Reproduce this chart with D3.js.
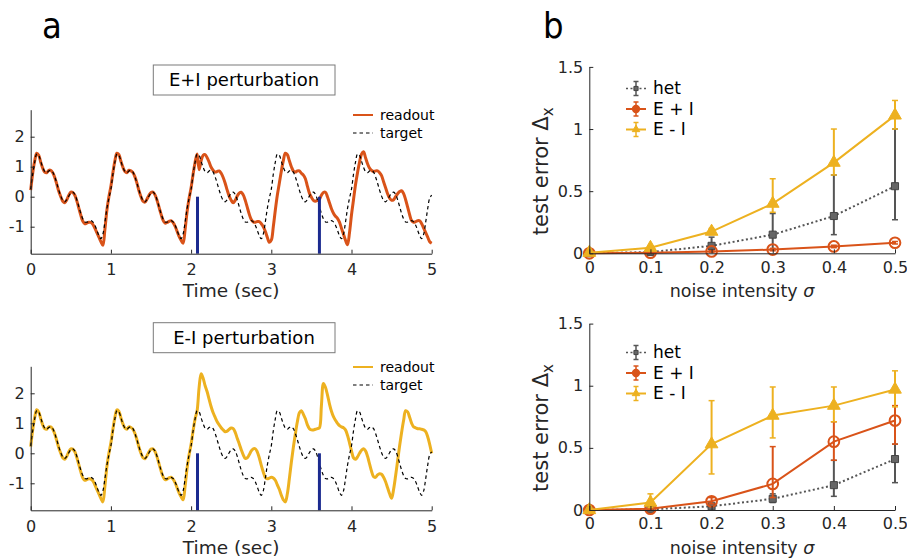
<!DOCTYPE html>
<html>
<head>
<meta charset="utf-8">
<script src="https://cdn.jsdelivr.net/npm/d3@7"></script>
<style>
  body { margin: 0; background: #fff; }
  text { font-family: "DejaVu Sans", sans-serif; fill: #262626; }
</style>
</head>
<body>
<svg id="fig" width="907" height="560"></svg>
<script>
// ---------- time traces (panel a) ----------
const sampleStep = 0.025;               // seconds between samples
const traceTimeTicks = [0, 1, 2, 3, 4, 5];
const traceValueTicks = [-1, 0, 1, 2];
const perturbationTimes = [2.08, 3.6];

const target = [
  0.25, 0.75, 1.15, 1.42, 1.38, 1.18, 0.98, 0.84, 0.80, 0.86,
  0.88, 0.82, 0.66, 0.45, 0.22, 0.02, -0.12, -0.17, -0.10, 0.02,
  0.12, 0.15, 0.08, -0.10, -0.33, -0.56, -0.74, -0.84, -0.85, -0.82,
  -0.80, -0.84, -0.95, -1.12, -1.30, -1.40, -1.25, -0.85, -0.40, -0.05,
  0.25, 0.75, 1.15, 1.42, 1.38, 1.18, 0.98, 0.84, 0.80, 0.86,
  0.88, 0.82, 0.66, 0.45, 0.22, 0.02, -0.12, -0.17, -0.10, 0.02,
  0.12, 0.15, 0.08, -0.10, -0.33, -0.56, -0.74, -0.84, -0.85, -0.82,
  -0.80, -0.84, -0.95, -1.12, -1.30, -1.40, -1.25, -0.85, -0.40, -0.05,
  0.25, 0.75, 1.15, 1.42, 1.38, 1.18, 0.98, 0.84, 0.80, 0.86,
  0.88, 0.82, 0.66, 0.45, 0.22, 0.02, -0.12, -0.17, -0.10, 0.02,
  0.12, 0.15, 0.08, -0.10, -0.33, -0.56, -0.74, -0.84, -0.85, -0.82,
  -0.80, -0.84, -0.95, -1.12, -1.30, -1.40, -1.25, -0.85, -0.40, -0.05,
  0.25, 0.75, 1.15, 1.42, 1.38, 1.18, 0.98, 0.84, 0.80, 0.86,
  0.88, 0.82, 0.66, 0.45, 0.22, 0.02, -0.12, -0.17, -0.10, 0.02,
  0.12, 0.15, 0.08, -0.10, -0.33, -0.56, -0.74, -0.84, -0.85, -0.82,
  -0.80, -0.84, -0.95, -1.12, -1.30, -1.40, -1.25, -0.85, -0.40, -0.05,
  0.25, 0.75, 1.15, 1.42, 1.38, 1.18, 0.98, 0.84, 0.80, 0.86,
  0.88, 0.82, 0.66, 0.45, 0.22, 0.02, -0.12, -0.17, -0.10, 0.02,
  0.12, 0.15, 0.08, -0.10, -0.33, -0.56, -0.74, -0.84, -0.85, -0.82,
  -0.80, -0.84, -0.95, -1.12, -1.30, -1.40, -1.25, -0.85, -0.40, -0.05,
  0.05
];

const readoutEplusI = [
  0.22, 0.78, 1.20, 1.45, 1.38, 1.15, 0.95, 0.82, 0.80, 0.88,
  0.88, 0.80, 0.64, 0.42, 0.18, 0.00, -0.15, -0.20, -0.10, 0.05,
  0.15, 0.14, 0.05, -0.14, -0.38, -0.62, -0.82, -0.90, -0.88, -0.85,
  -0.86, -0.92, -1.05, -1.20, -1.35, -1.50, -1.62, -1.10, -0.45, 0.00,
  0.35, 0.80, 1.20, 1.45, 1.40, 1.18, 0.98, 0.84, 0.80, 0.88,
  0.86, 0.80, 0.66, 0.45, 0.20, 0.00, -0.15, -0.18, -0.08, 0.05,
  0.14, 0.15, 0.06, -0.12, -0.35, -0.58, -0.78, -0.88, -0.86, -0.82,
  -0.80, -0.86, -0.98, -1.15, -1.32, -1.45, -1.55, -1.10, -0.50, -0.05,
  0.30, 0.75, 1.15, 1.42, 0.90, 1.20, 1.38, 1.40, 1.30, 1.15,
  0.98, 0.88, 0.82, 0.84, 0.86, 0.78, 0.64, 0.45, 0.22, 0.02,
  -0.12, -0.20, -0.12, 0.02, 0.12, 0.15, 0.06, -0.12, -0.35, -0.58,
  -0.76, -0.84, -0.85, -0.83, -0.83, -0.90, -1.00, -1.15, -1.35, -1.52,
  -1.45, -1.00, -0.45, 0.05, 0.45, 0.85, 1.20, 1.45, 1.40, 1.20,
  1.00, 0.86, 0.82, 0.86, 0.86, 0.78, 0.72, 0.60, 0.35, 0.12,
  -0.02, -0.12, -0.15, -0.12, -0.08, 0.05, 0.14, 0.15, 0.00, -0.20,
  -0.40, -0.55, -0.65, -0.72, -0.85, -1.05, -1.25, -1.45, -1.60, -1.20,
  -0.60, -0.10, 0.40, 0.80, 1.15, 1.42, 1.50, 1.30, 1.10, 0.95,
  0.88, 0.84, 0.86, 0.86, 0.80, 0.70, 0.50, 0.30, 0.10, -0.05,
  -0.12, -0.10, 0.00, 0.10, 0.17, 0.20, 0.10, -0.10, -0.35, -0.60,
  -0.80, -0.85, -0.83, -0.80, -0.80, -0.90, -1.05, -1.20, -1.35, -1.50,
  -1.55
];

const readoutEminusI = [
  0.22, 0.78, 1.20, 1.45, 1.38, 1.15, 0.95, 0.82, 0.80, 0.88,
  0.88, 0.80, 0.64, 0.42, 0.18, 0.00, -0.15, -0.20, -0.10, 0.05,
  0.15, 0.14, 0.05, -0.14, -0.38, -0.62, -0.82, -0.90, -0.88, -0.85,
  -0.86, -0.92, -1.05, -1.20, -1.35, -1.50, -1.62, -1.10, -0.45, 0.00,
  0.35, 0.80, 1.20, 1.45, 1.40, 1.18, 0.98, 0.84, 0.80, 0.88,
  0.86, 0.80, 0.66, 0.45, 0.20, 0.00, -0.15, -0.18, -0.08, 0.05,
  0.14, 0.15, 0.06, -0.12, -0.35, -0.58, -0.78, -0.88, -0.86, -0.82,
  -0.80, -0.86, -0.98, -1.15, -1.32, -1.45, -1.55, -1.10, -0.50, -0.05,
  0.30, 0.75, 1.15, 1.42, 2.20, 2.65, 2.50, 2.25, 2.05, 1.80,
  1.55, 1.35, 1.20, 1.05, 0.95, 0.85, 0.78, 0.72, 0.74, 0.80,
  0.84, 0.82, 0.70, 0.50, 0.32, 0.12, -0.05, -0.17, -0.15, -0.05,
  0.08, 0.15, 0.15, 0.05, -0.15, -0.40, -0.62, -0.80, -0.85, -0.83,
  -0.80, -0.82, -0.90, -1.05, -1.20, -1.40, -1.55, -1.62, -1.35, -0.85,
  -0.30, 0.20, 0.65, 1.05, 1.35, 1.42, 1.30, 1.15, 0.95, 0.82,
  0.78, 0.78, 0.80, 0.82, 0.85, 1.60, 2.33, 2.20, 1.95, 1.65,
  1.40, 1.22, 1.10, 1.00, 0.92, 0.88, 0.85, 0.78, 0.60, 0.35,
  0.08, -0.15, -0.20, -0.12, 0.00, 0.10, 0.15, 0.08, -0.10, -0.35,
  -0.60, -0.78, -0.80, -0.72, -0.68, -0.70, -0.80, -0.95, -1.15, -1.35,
  -1.50, -1.20, -0.75, -0.25, 0.25, 0.70, 1.10, 1.42, 1.38, 1.20,
  1.00, 0.88, 0.85, 0.82, 0.82, 0.80, 0.78, 0.72, 0.55, 0.30,
  0.00
];

// ---------- test error vs noise (panel b) ----------
const noiseLevels = [0, 0.1, 0.2, 0.3, 0.4, 0.5];
const noiseTickLabels = ["0", "0.1", "0.2", "0.3", "0.4", "0.5"];
const errorTicks = [0, 0.5, 1, 1.5];
const errorTickLabels = ["0", "0.5", "1", "1.5"];
const seriesNames = ["het", "E + I", "E - I"];

// upper plot
const hetUpper      = [0, 0.010, 0.06, 0.15, 0.30, 0.54];
const hetUpperLow   = [0, 0.005, 0.03, 0.03, 0.15, 0.27];
const hetUpperHigh  = [0, 0.020, 0.13, 0.32, 0.63, 1.00];
const epiUpper      = [0, 0.005, 0.015, 0.030, 0.055, 0.085];
const epiUpperLow   = [0, 0.000, 0.008, 0.020, 0.045, 0.075];
const epiUpperHigh  = [0, 0.010, 0.022, 0.040, 0.065, 0.095];
const emiUpper      = [0.005, 0.045, 0.175, 0.40, 0.73, 1.11];
const emiUpperLow   = [0.000, 0.030, 0.150, 0.33, 0.63, 1.00];
const emiUpperHigh  = [0.010, 0.060, 0.200, 0.60, 1.00, 1.23];

// lower plot
const hetLower      = [0, 0.005, 0.03, 0.09, 0.20, 0.41];
const hetLowerLow   = [0, 0.000, 0.02, 0.06, 0.11, 0.22];
const hetLowerHigh  = [0, 0.010, 0.05, 0.13, 0.40, 0.53];
const epiLower      = [0, 0.010, 0.07, 0.21, 0.55, 0.72];
const epiLowerLow   = [0, 0.005, 0.05, 0.10, 0.40, 0.53];
const epiLowerHigh  = [0, 0.020, 0.10, 0.51, 0.71, 0.84];
const emiLower      = [0, 0.06, 0.53, 0.76, 0.84, 0.97];
const emiLowerLow   = [0, 0.02, 0.29, 0.58, 0.71, 0.83];
const emiLowerHigh  = [0, 0.13, 0.88, 0.99, 0.99, 1.12];

// ---------- styling ----------
const ORANGE = "#D95319", YELLOW = "#EDB120", GRAY = "#555555";
const BLUE = "#1b2a8f", AXIS = "#262626";

const svg = d3.select("#fig");

// panel letters
svg.append("text").attr("x", 42).attr("y", 38)
  .style("font-family", "'DejaVu Sans Condensed','DejaVu Sans',sans-serif")
  .style("font-size", "36px").style("fill", "#000").text("a");
svg.append("text").attr("x", 543).attr("y", 38)
  .style("font-family", "'DejaVu Sans Condensed','DejaVu Sans',sans-serif")
  .style("font-size", "36px").style("fill", "#000").text("b");

function styleAxis(g) {
  g.select(".domain").attr("stroke", AXIS).attr("stroke-width", 1);
  g.selectAll(".tick line").attr("stroke", AXIS);
  g.selectAll(".tick text").style("font-size", "16px").style("fill", AXIS)
    .attr("font-family", null);
}

function tracePanel(cfg) {
  const x = d3.scaleLinear().domain([0, 5]).range([30.7, 431.7]);
  const y = d3.scaleLinear().domain([-1.9, 2.9]).range([cfg.y0 + 57, cfg.y0 - 87]);
  const times = cfg.readout.map((_, i) => i * sampleStep);
  const g = svg.append("g");

  // title box
  const box = g.append("g");
  box.append("rect").attr("x", 153.3).attr("y", cfg.boxTop).attr("width", 181.7).attr("height", 30)
    .attr("fill", "#fff").attr("stroke", "#7a7a7a").attr("stroke-width", 1);
  box.append("text").attr("x", 244).attr("y", cfg.boxTop + 15).attr("dy", "0.35em")
    .attr("text-anchor", "middle").style("font-size", "18px").style("fill", "#000").text(cfg.title);

  const line = d3.line().x((d, i) => x(times[i])).y(d => y(d)).curve(d3.curveCatmullRom.alpha(0.5));

  g.append("path").datum(cfg.readout).attr("d", line).attr("fill", "none")
    .attr("stroke", cfg.color).attr("stroke-width", 3).attr("stroke-linejoin", "round");
  g.append("path").datum(target).attr("d", line).attr("fill", "none")
    .attr("stroke", "#000").attr("stroke-width", 1.2).attr("stroke-dasharray", "3.5,3");

  // perturbation markers
  g.selectAll(".pert").data(perturbationTimes).join("line")
    .attr("x1", d => x(d)).attr("x2", d => x(d))
    .attr("y1", y(0)).attr("y2", y(-1.9))
    .attr("stroke", BLUE).attr("stroke-width", 3);

  const xa = g.append("g").attr("transform", `translate(0,${y(-1.9)})`)
    .call(d3.axisBottom(x).tickValues(traceTimeTicks).tickFormat(d3.format("d"))
      .tickSizeInner(-4).tickSizeOuter(0).tickPadding(10));
  styleAxis(xa);
  const ya = g.append("g").attr("transform", `translate(${x(0)},0)`)
    .call(d3.axisLeft(y).tickValues(traceValueTicks).tickFormat(d3.format("d"))
      .tickSizeInner(-4).tickSizeOuter(0).tickPadding(6));
  styleAxis(ya);
  ya.selectAll(".tick text").text(d => d < 0 ? "-" + Math.abs(d) : d);

  g.append("text").attr("x", (x(0) + x(5)) / 2).attr("y", cfg.xlabelY)
    .attr("text-anchor", "middle").style("font-size", "18.5px").text("Time (sec)");

  // legend
  const lg = g.append("g");
  lg.append("line").attr("x1", 353).attr("x2", 373).attr("y1", cfg.legY).attr("y2", cfg.legY)
    .attr("stroke", cfg.color).attr("stroke-width", 2);
  lg.append("text").attr("x", 380).attr("y", cfg.legY).attr("dy", "0.35em")
    .style("font-size", "14px").style("fill", "#000").text("readout");
  lg.append("line").attr("x1", 353).attr("x2", 373).attr("y1", cfg.legY + 18).attr("y2", cfg.legY + 18)
    .attr("stroke", "#000").attr("stroke-width", 1.2).attr("stroke-dasharray", "3.5,3");
  lg.append("text").attr("x", 380).attr("y", cfg.legY + 18).attr("dy", "0.35em")
    .style("font-size", "14px").style("fill", "#000").text("target");
}

tracePanel({ y0: 196.7, boxTop: 65, title: "E+I perturbation", readout: readoutEplusI,
  color: ORANGE, xlabelY: 297, legY: 115 });
tracePanel({ y0: 453.3, boxTop: 322.7, title: "E-I perturbation", readout: readoutEminusI,
  color: YELLOW, xlabelY: 554, legY: 367 });

function marker(sel, kind, color, scale) {
  if (kind === "square") {
    sel.attr("d", d3.symbol(d3.symbolSquare, 50 * scale)).attr("fill", "#666").attr("stroke", "#444").attr("stroke-width", 1);
  } else if (kind === "circle") {
    sel.attr("d", d3.symbol(d3.symbolCircle, 90 * scale)).attr("fill", scale < 1 ? color : "none")
      .attr("stroke", color).attr("stroke-width", 2);
  } else {
    sel.attr("d", d3.symbol(d3.symbolTriangle, 70 * scale)).attr("fill", color).attr("stroke", color).attr("stroke-width", 1);
  }
}

function noisePanel(cfg) {
  const x = d3.scaleLinear().domain([0, 0.5]).range([589.3, 895]);
  const y = d3.scaleLinear().domain([0, 1.5]).range([cfg.yBottom, cfg.yBottom - 186.4]);
  const g = svg.append("g");

  const series = [
    { mean: cfg.het, lo: cfg.hetLo, hi: cfg.hetHi, color: GRAY, kind: "square", dash: "2,2.5" },
    { mean: cfg.epi, lo: cfg.epiLo, hi: cfg.epiHi, color: ORANGE, kind: "circle", dash: null },
    { mean: cfg.emi, lo: cfg.emiLo, hi: cfg.emiHi, color: YELLOW, kind: "triangle", dash: null }
  ];

  const line = d3.line().x((d, i) => x(noiseLevels[i])).y(d => y(d));

  series.forEach(s => {
    const sg = g.append("g");
    const bars = sg.selectAll(".eb").data(noiseLevels).join("g");
    bars.append("line").attr("x1", (d) => x(d)).attr("x2", d => x(d))
      .attr("y1", (d, i) => y(s.lo[i])).attr("y2", (d, i) => y(s.hi[i]))
      .attr("stroke", s.color).attr("stroke-width", 2);
    ["lo", "hi"].forEach(k => {
      bars.append("line").attr("x1", d => x(d) - 3).attr("x2", d => x(d) + 3)
        .attr("y1", (d, i) => y(s[k][i])).attr("y2", (d, i) => y(s[k][i]))
        .attr("stroke", s.color).attr("stroke-width", 1.5);
    });
    sg.append("path").datum(s.mean).attr("d", line).attr("fill", "none")
      .attr("stroke", s.color).attr("stroke-width", 2)
      .attr("stroke-dasharray", s.dash);
    sg.selectAll(".mk").data(s.mean).join("path")
      .attr("transform", (d, i) => `translate(${x(noiseLevels[i])},${y(d)})`)
      .call(marker, s.kind, s.color, 1);
  });

  const xa = g.append("g").attr("transform", `translate(0,${y(0)})`)
    .call(d3.axisBottom(x).tickValues(noiseLevels).tickFormat((d, i) => noiseTickLabels[i])
      .tickSizeInner(-4).tickSizeOuter(0).tickPadding(8));
  styleAxis(xa);
  const ya = g.append("g").attr("transform", `translate(${x(0)},0)`)
    .call(d3.axisLeft(y).tickValues(errorTicks).tickFormat((d, i) => errorTickLabels[i])
      .tickSizeInner(-4).tickSizeOuter(0).tickPadding(6));
  styleAxis(ya);

  const xl = g.append("text").attr("x", 742).attr("y", cfg.yBottom + 44)
    .attr("text-anchor", "middle").style("font-size", "17.5px");
  xl.append("tspan").text("noise intensity ");
  xl.append("tspan").style("font-style", "italic").text("σ");

  const yl = g.append("text")
    .attr("transform", `translate(548,${cfg.yBottom - 82}) rotate(-90)`)
    .attr("text-anchor", "middle").style("font-size", "21px");
  yl.append("tspan").text("test error Δ");
  yl.append("tspan").attr("dy", "0.3em").style("font-size", "15px").text("x");

  // legend
  const lg = g.selectAll(".leg").data(series).join("g")
    .attr("transform", (d, i) => `translate(636,${cfg.legTop + i * 20.5})`);
  lg.append("line").attr("x1", -10).attr("x2", 10).attr("stroke", d => d.color)
    .attr("stroke-width", d => d.dash ? 1.5 : 2).attr("stroke-dasharray", d => d.dash);
  lg.append("line").attr("y1", -7).attr("y2", 7).attr("stroke", d => d.color).attr("stroke-width", 1.5);
  lg.append("line").attr("x1", -2.5).attr("x2", 2.5).attr("y1", -7).attr("y2", -7).attr("stroke", d => d.color).attr("stroke-width", 1.5);
  lg.append("line").attr("x1", -2.5).attr("x2", 2.5).attr("y1", 7).attr("y2", 7).attr("stroke", d => d.color).attr("stroke-width", 1.5);
  lg.append("path").each(function (d) { d3.select(this).call(marker, d.kind, d.color, 0.35); });
  lg.append("text").attr("x", 17).attr("dy", "0.35em").style("font-size", "17px").style("fill", "#000")
    .text((d, i) => seriesNames[i]);
}

noisePanel({ yBottom: 253.3, legTop: 88.5,
  het: hetUpper, hetLo: hetUpperLow, hetHi: hetUpperHigh,
  epi: epiUpper, epiLo: epiUpperLow, epiHi: epiUpperHigh,
  emi: emiUpper, emiLo: emiUpperLow, emiHi: emiUpperHigh });
noisePanel({ yBottom: 510, legTop: 352.5,
  het: hetLower, hetLo: hetLowerLow, hetHi: hetLowerHigh,
  epi: epiLower, epiLo: epiLowerLow, epiHi: epiLowerHigh,
  emi: emiLower, emiLo: emiLowerLow, emiHi: emiLowerHigh });
</script>
</body>
</html>
